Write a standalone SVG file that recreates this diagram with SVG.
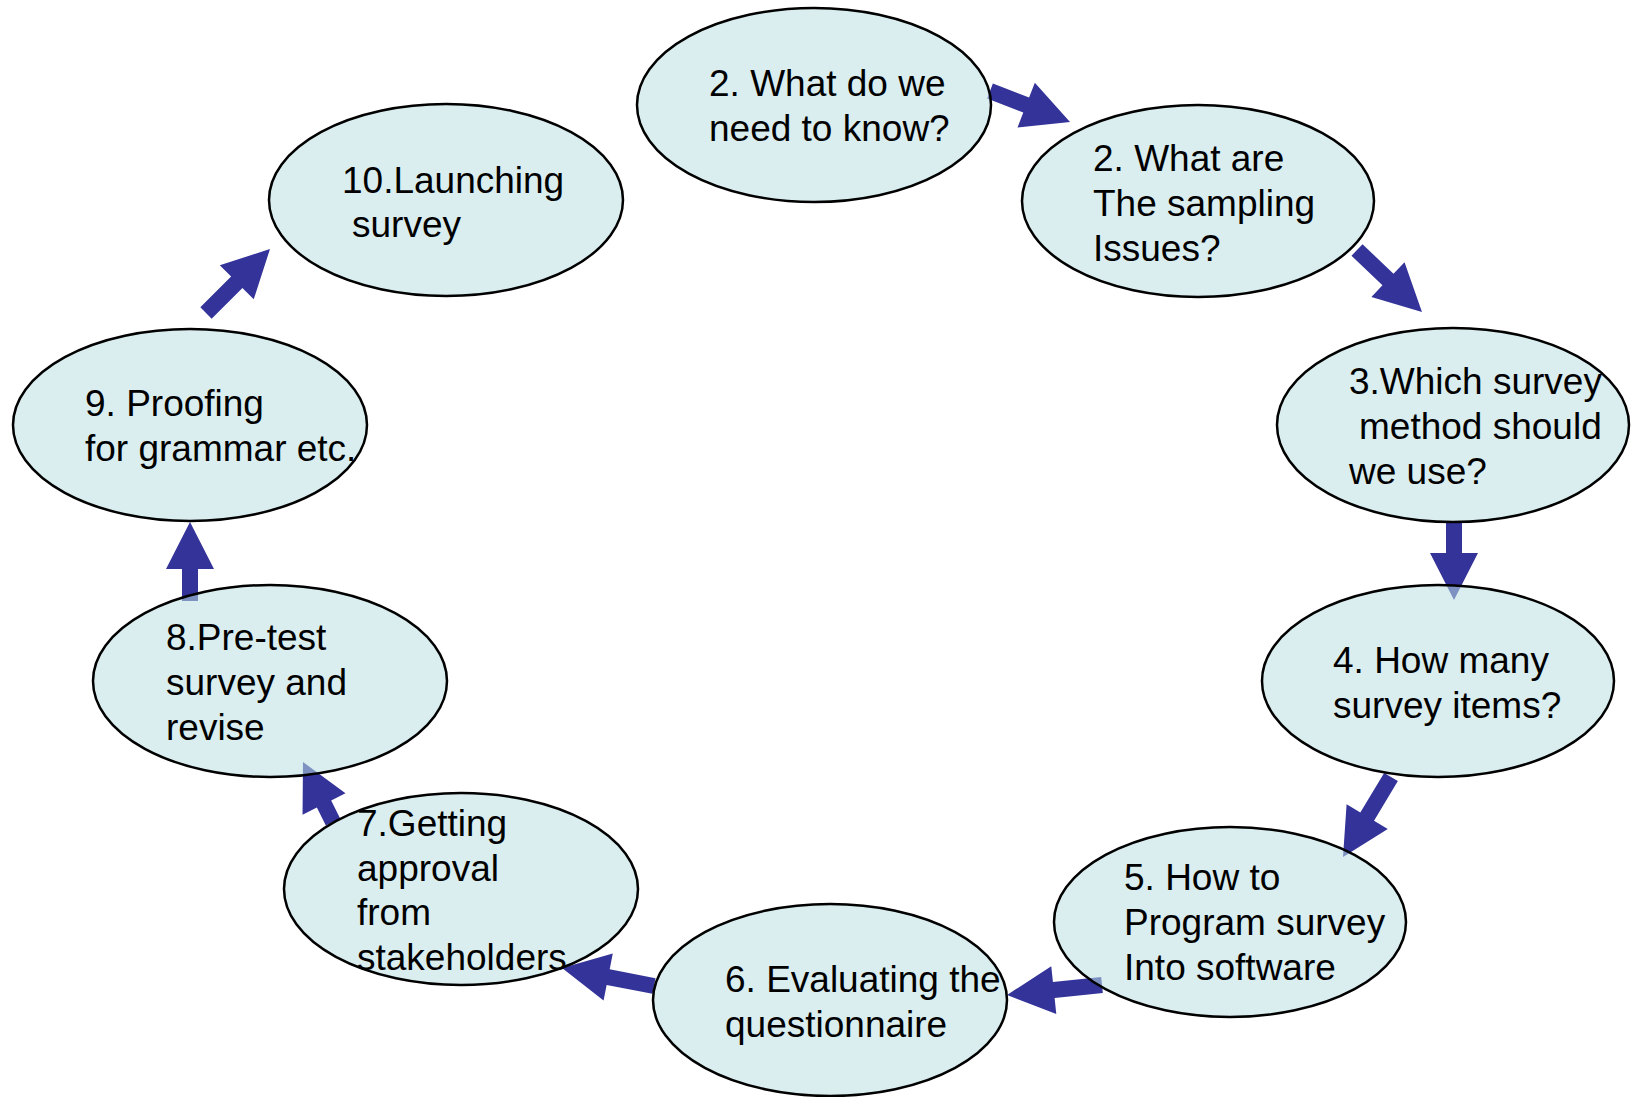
<svg xmlns="http://www.w3.org/2000/svg" width="1637" height="1097" viewBox="0 0 1637 1097">
<style>
.arrow{fill:#333399;stroke:none}
.node ellipse{fill:rgb(188,224,228);fill-opacity:0.55;stroke:#000;stroke-width:2.5}
.node text{font-family:"Liberation Sans",Arial,sans-serif;font-size:37px;fill:#000}
</style>
<rect width="1637" height="1097" fill="#fff"/>
<g id="connectors">
<path class="arrow" transform="translate(990,91) rotate(21.18)" d="M0,-8 H38.8 V-24 L85.8,0 L38.8,24 V8 H0 Z"/>
<path class="arrow" transform="translate(1357,250) rotate(43.65)" d="M0,-8 H42.8 V-24 L89.8,0 L42.8,24 V8 H0 Z"/>
<path class="arrow" transform="translate(1454,521) rotate(90)" d="M0,-8 H32 V-24 L79,0 L32,24 V8 H0 Z"/>
<path class="arrow" transform="translate(1391,777) rotate(120.96)" d="M0,-8 H46.3 V-24 L93.3,0 L46.3,24 V8 H0 Z"/>
<path class="arrow" transform="translate(1102,985) rotate(173.99)" d="M0,-8 H48.5 V-24 L95.5,0 L48.5,24 V8 H0 Z"/>
<path class="arrow" transform="translate(654,986) rotate(191.07)" d="M0,-8 H46.7 V-24 L93.7,0 L46.7,24 V8 H0 Z"/>
<path class="arrow" transform="translate(333,822) rotate(243.43)" d="M0,-8 H20.1 V-24 L67.1,0 L20.1,24 V8 H0 Z"/>
<path class="arrow" transform="translate(190,601) rotate(-90)" d="M0,-8 H32 V-24 L79,0 L32,24 V8 H0 Z"/>
<path class="arrow" transform="translate(206,313) rotate(-45)" d="M0,-8 H43.5 V-24 L90.5,0 L43.5,24 V8 H0 Z"/>
</g>
<g id="node1" class="node">
<ellipse cx="814" cy="105" rx="177" ry="97"/>
<text><tspan x="709" y="96">2. What do we</tspan><tspan x="709" y="141">need to know?</tspan></text>
</g>
<g id="node2" class="node">
<ellipse cx="1198" cy="201" rx="176" ry="96"/>
<text><tspan x="1093" y="171">2. What are</tspan><tspan x="1093" y="216">The sampling</tspan><tspan x="1093" y="261">Issues?</tspan></text>
</g>
<g id="node3" class="node">
<ellipse cx="1453" cy="425" rx="176" ry="97"/>
<text><tspan x="1349" y="394">3.Which survey</tspan><tspan x="1359" y="439">method should</tspan><tspan x="1349" y="484">we use?</tspan></text>
</g>
<g id="node4" class="node">
<ellipse cx="1438" cy="681" rx="176" ry="96"/>
<text><tspan x="1333" y="673">4. How many</tspan><tspan x="1333" y="718">survey items?</tspan></text>
</g>
<g id="node5" class="node">
<ellipse cx="1230" cy="922" rx="176" ry="95"/>
<text><tspan x="1124" y="890">5. How to</tspan><tspan x="1124" y="935">Program survey</tspan><tspan x="1124" y="980">Into software</tspan></text>
</g>
<g id="node6" class="node">
<ellipse cx="830" cy="1000" rx="177" ry="96"/>
<text><tspan x="725" y="992">6. Evaluating the</tspan><tspan x="725" y="1037">questionnaire</tspan></text>
</g>
<g id="node7" class="node">
<ellipse cx="461" cy="889" rx="177" ry="96"/>
<text><tspan x="357" y="836">7.Getting</tspan><tspan x="357" y="881">approval</tspan><tspan x="357" y="925">from</tspan><tspan x="357" y="970">stakeholders</tspan></text>
</g>
<g id="node8" class="node">
<ellipse cx="270" cy="681" rx="177" ry="96"/>
<text><tspan x="166" y="650">8.Pre-test</tspan><tspan x="166" y="695">survey and</tspan><tspan x="166" y="740">revise</tspan></text>
</g>
<g id="node9" class="node">
<ellipse cx="190" cy="425" rx="177" ry="96"/>
<text><tspan x="85" y="416">9. Proofing</tspan><tspan x="85" y="461">for grammar etc.</tspan></text>
</g>
<g id="node10" class="node">
<ellipse cx="446" cy="200" rx="177" ry="96"/>
<text><tspan x="342" y="193">10.Launching</tspan><tspan x="352" y="237">survey</tspan></text>
</g>
</svg>
